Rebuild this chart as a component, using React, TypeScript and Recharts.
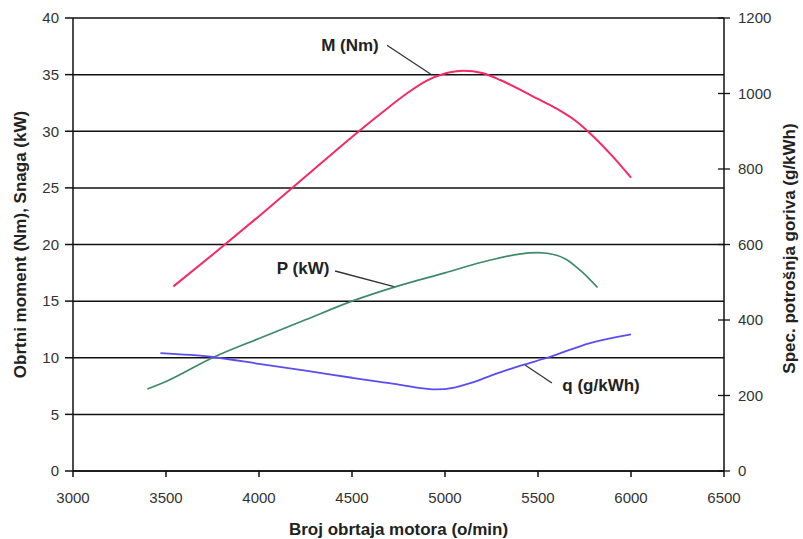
import { LineChart, Line, XAxis, YAxis, CartesianGrid, ReferenceLine, ReferenceDot } from 'recharts';

const rpmTicks = [3000, 3500, 4000, 4500, 5000, 5500, 6000, 6500];
const leftTicks = [0, 5, 10, 15, 20, 25, 30, 35, 40];
const rightTicks = [0, 200, 400, 600, 800, 1000, 1200];

// M (Nm)
const torqueRpm = [3540, 3750, 4000, 4250, 4500, 4650, 4800, 4900, 5000, 5100, 5200, 5300, 5500, 5600, 5700, 5800, 5900, 6000];
const torqueValues = [16.3, 19.1, 22.5, 26.0, 29.5, 31.5, 33.4, 34.45, 35.1, 35.35, 35.15, 34.5, 32.85, 32.0, 30.95, 29.5, 27.8, 25.9];

// P (kW)
const powerRpm = [3400, 3500, 3750, 4000, 4250, 4500, 4750, 5000, 5250, 5400, 5500, 5600, 5650, 5725, 5820];
const powerValues = [7.24, 7.9, 10.0, 11.7, 13.35, 15.0, 16.35, 17.5, 18.65, 19.15, 19.28, 19.05, 18.7, 17.75, 16.2];

// q (g/kWh)
const fuelRpm = [3470, 3750, 4000, 4250, 4500, 4650, 4750, 4850, 4950, 5050, 5150, 5300, 5420, 5550, 5780, 6000];
const fuelValues = [312, 302, 284, 266, 247, 236, 229, 221, 216, 221, 235, 262, 281, 300, 339, 362];

const seriesLabels = ['M (Nm)', 'P (kW)', 'q (g/kWh)'];
// label anchor [rpm, value] and pointer segment [rpm1, v1, rpm2, v2]
const labelAnchors = [[4489, 37.6], [4237, 17.9], [5839, 228]];
const pointerSegments = [
  [4688, 37.6, 4930, 34.97],
  [4409, 17.66, 4731, 16.25],
  [5575, 233, 5430, 281],
];
const labelAxis = ['left', 'left', 'right'];

const torqueData = torqueRpm.map((rpm, i) => ({ rpm, value: torqueValues[i] }));
const powerData = powerRpm.map((rpm, i) => ({ rpm, value: powerValues[i] }));
const fuelData = fuelRpm.map((rpm, i) => ({ rpm, value: fuelValues[i] }));

const FONT = '"Liberation Sans", Arial, sans-serif';

function RightTick(props: any) {
  const { x, y, payload } = props;
  return (
    <g>
      <line x1={x - 20} x2={x - 8} y1={y} y2={y} stroke="#111" strokeWidth={1.3} />
      <text x={x} y={y} dy="0.355em" textAnchor="start" fontSize={15} fill="#333" fontFamily={FONT}>
        {payload.value}
      </text>
    </g>
  );
}

function boldText(label: string) {
  return (props: any) => (
    <text
      x={props.cx}
      y={props.cy}
      dy="0.355em"
      textAnchor="middle"
      fontSize={17}
      fontWeight="bold"
      fill="#222"
      fontFamily={FONT}
    >
      {label}
    </text>
  );
}

export default function App() {
  return (
    <div style={{ position: 'absolute', left: 0, top: 0, background: '#fff' }}>
      <LineChart width={803} height={539} margin={{ top: 18, right: 0, left: 0, bottom: 0 }}>
        <CartesianGrid vertical={false} stroke="#111" strokeWidth={1.5} yAxisId="left" />
        <XAxis
          type="number"
          dataKey="rpm"
          domain={[3000, 6500]}
          ticks={rpmTicks}
          height={68}
          tickSize={6}
          tickMargin={15}
          stroke="#111"
          strokeWidth={1.5}
          tick={{ fontSize: 15, fill: '#333', fontFamily: FONT }}
          label={{
            content: (p: any) => (
              <text
                x={p.viewBox.x + p.viewBox.width / 2}
                y={529}
                dy="0.355em"
                textAnchor="middle"
                fontSize={17}
                fontWeight="bold"
                fill="#222"
                fontFamily={FONT}
              >
                Broj obrtaja motora (o/min)
              </text>
            ),
          }}
        />
        <YAxis
          yAxisId="left"
          domain={[0, 40]}
          ticks={leftTicks}
          width={73}
          tickSize={8}
          tickMargin={6}
          stroke="#111"
          strokeWidth={1.5}
          tick={{ fontSize: 15, fill: '#333', fontFamily: FONT }}
          label={{
            content: (p: any) => {
              const cy = p.viewBox.y + p.viewBox.height / 2;
              return (
                <text
                  x={20}
                  y={cy}
                  transform={`rotate(-90 20 ${cy})`}
                  dy="0.355em"
                  textAnchor="middle"
                  fontSize={17}
                  fontWeight="bold"
                  fill="#222"
                  fontFamily={FONT}
                >
                  Obrtni moment (Nm), Snaga (kW)
                </text>
              );
            },
          }}
        />
        <YAxis
          yAxisId="right"
          orientation="right"
          domain={[0, 1200]}
          ticks={rightTicks}
          width={79}
          tickSize={6}
          tickMargin={8}
          tickLine={false}
          stroke="#111"
          strokeWidth={1.5}
          tick={<RightTick />}
          label={{
            content: (p: any) => {
              const cy = p.viewBox.y + p.viewBox.height / 2 + 4;
              return (
                <text
                  x={789}
                  y={cy}
                  transform={`rotate(-90 789 ${cy})`}
                  dy="0.355em"
                  textAnchor="middle"
                  fontSize={17}
                  fontWeight="bold"
                  fill="#222"
                  fontFamily={FONT}
                >
                  Spec. potrošnja goriva (g/kWh)
                </text>
              );
            },
          }}
        />
        {pointerSegments.map((s, i) => (
          <ReferenceLine
            key={'seg' + i}
            yAxisId={labelAxis[i]}
            segment={[{ x: s[0], y: s[1] }, { x: s[2], y: s[3] }]}
            stroke="#333"
            strokeWidth={1.3}
          />
        ))}
        {labelAnchors.map((a, i) => (
          <ReferenceDot
            key={'lbl' + i}
            yAxisId={labelAxis[i]}
            x={a[0]}
            y={a[1]}
            r={0}
            shape={boldText(seriesLabels[i])}
          />
        ))}
        <Line
          yAxisId="left"
          data={torqueData}
          dataKey="value"
          type="monotone"
          stroke="#f52a64"
          strokeWidth={2}
          dot={false}
          isAnimationActive={false}
        />
        <Line
          yAxisId="left"
          data={powerData}
          dataKey="value"
          type="monotone"
          stroke="#3d8a68"
          strokeWidth={1.7}
          dot={false}
          isAnimationActive={false}
        />
        <Line
          yAxisId="right"
          data={fuelData}
          dataKey="value"
          type="monotone"
          stroke="#5a4cf0"
          strokeWidth={1.8}
          dot={false}
          isAnimationActive={false}
        />
      </LineChart>
    </div>
  );
}
